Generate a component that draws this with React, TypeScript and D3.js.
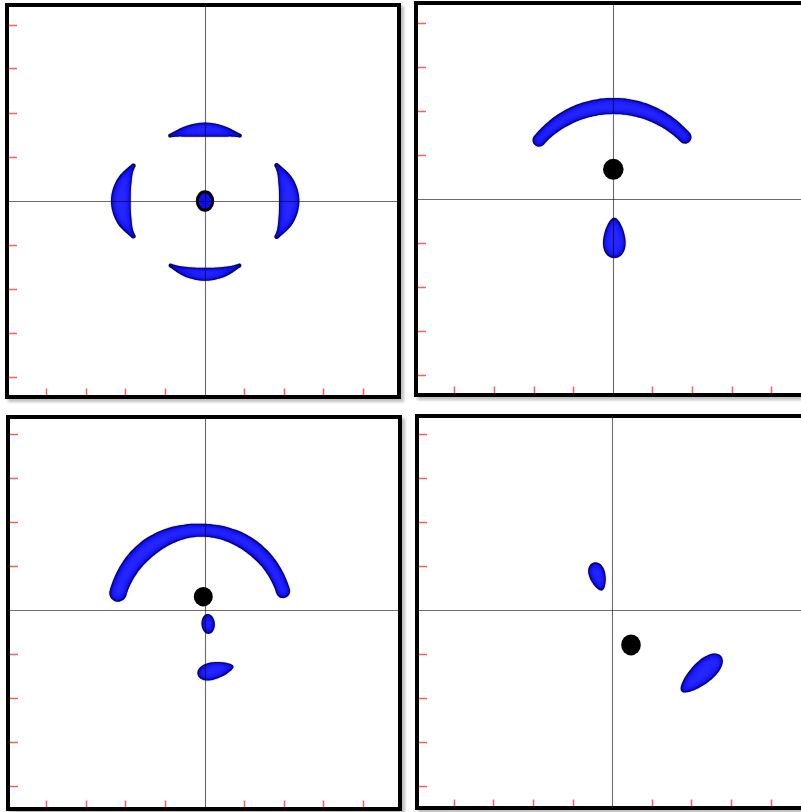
import React from 'react';
import * as d3 from 'd3';

type Pt = [number, number];

const W = 801;
const H = 812;
const BOX = 396; // framed panel size in px
const HALF = BOX / 2;

// axis domains shared by all four panels
const X_DOMAIN: [number, number] = [-5, 5];
const Y_DOMAIN: [number, number] = [-4.5, 4.5];
const TICK_VALUES = [-4, -3, -2, -1, 1, 2, 3, 4];

// panel frames (top-left corner) and where each origin sits on the page
const PANEL_X = [5, 414, 6, 415];
const PANEL_Y = [3, 1, 415, 414];
const ORIGIN_X = [205, 613.3, 205, 612.7];
const ORIGIN_Y = [201, 199.5, 610, 610];

// curved lobes: a mid-line through start / mid / end, with a width profile (x units)
const bands: { panel: number; start: Pt; mid: Pt; end: Pt; width: number[] }[] = [
  { panel: 0, start: [-0.88, 1.485], mid: [0, 1.62], end: [0.88, 1.485], width: [0.1, 0.28, 0.36, 0.28, 0.1] },
  { panel: 0, start: [-0.87, -1.465], mid: [0, -1.667], end: [0.87, -1.465], width: [0.1, 0.26, 0.33, 0.26, 0.1] },
  { panel: 0, start: [-1.81, 0.8], mid: [-2.125, 0], end: [-1.81, -0.8], width: [0.12, 0.39, 0.5, 0.39, 0.12] },
  { panel: 0, start: [1.81, 0.81], mid: [2.126, 0], end: [1.81, -0.81], width: [0.12, 0.4, 0.515, 0.4, 0.12] },
  { panel: 1, start: [-1.876, 1.349], mid: [0, 2.125], end: [1.81, 1.417], width: [0.33, 0.39, 0.41, 0.39, 0.33] },
  { panel: 2, start: [-2.197, 0.385], mid: [-0.05, 1.814], end: [1.97, 0.431], width: [0.44, 0.47, 0.33, 0.39, 0.36] },
];

// egg-shaped lobes from tip to tip; half-width in x units, skew > 0 fattens the second tip
const eggs: { panel: number; tip1: Pt; tip2: Pt; half: number; skew: number }[] = [
  { panel: 1, tip1: [0.025, -0.413], tip2: [0.025, -1.333], half: 0.277, skew: 0.28 },
  { panel: 2, tip1: [0.065, -0.091], tip2: [0.095, -0.544], half: 0.169, skew: 0 },
  { panel: 2, tip1: [-0.189, -1.463], tip2: [0.72, -1.281], half: 0.212, skew: -0.3 },
  { panel: 3, tip1: [-0.485, 1.077], tip2: [-0.27, 0.442], half: 0.202, skew: -0.25 },
  { panel: 3, tip1: [1.737, -1.848], tip2: [2.735, -1.043], half: 0.278, skew: 0.2 },
];

// nuclei markers (radii in x units); ring = hollow marker filled with lobe colour
const nuclei: { panel: number; c: Pt; rx: number; ry: number; ring: boolean }[] = [
  { panel: 0, c: [0, 0], rx: 0.195, ry: 0.235, ring: true },
  { panel: 1, c: [0, 0.685], rx: 0.26, ry: 0.265, ring: false },
  { panel: 2, c: [-0.043, 0.302], rx: 0.24, ry: 0.245, ring: false },
  { panel: 3, c: [0.462, -0.794], rx: 0.248, ry: 0.265, ring: false },
];

const LOBE_FILL = '#0c0cff';
const LOBE_GLOW = '#3a3aff';
const LOBE_RIM = '#000048';
const TICK_COLOR = '#ff5c5c';

const TAU = Math.PI * 2;
const mod = (v: number) => ((v % TAU) + TAU) % TAU;

// smooth 1D interpolation through evenly spaced values
function profile(vals: number[], u: number) {
  const n = vals.length - 1;
  const f = u * n;
  const i = Math.min(Math.floor(f), n - 1);
  const s = f - i;
  const p0 = vals[Math.max(i - 1, 0)];
  const p1 = vals[i];
  const p2 = vals[i + 1];
  const p3 = vals[Math.min(i + 2, n)];
  return 0.5 * (2 * p1 + (-p0 + p2) * s + (2 * p0 - 5 * p1 + 4 * p2 - p3) * s * s + (-p0 + 3 * p1 - 3 * p2 + p3) * s * s * s);
}

function bandPoints(P0: Pt, Pm: Pt, P1: Pt, widths: number[]): Pt[] {
  const [ax, ay] = P0, [bx, by] = Pm, [cx, cy] = P1;
  const d = 2 * (ax * (by - cy) + bx * (cy - ay) + cx * (ay - by));
  const ox = ((ax * ax + ay * ay) * (by - cy) + (bx * bx + by * by) * (cy - ay) + (cx * cx + cy * cy) * (ay - by)) / d;
  const oy = ((ax * ax + ay * ay) * (cx - bx) + (bx * bx + by * by) * (ax - cx) + (cx * cx + cy * cy) * (bx - ax)) / d;
  const R = Math.hypot(ax - ox, ay - oy);
  const a0 = Math.atan2(ay - oy, ax - ox);
  const am = Math.atan2(by - oy, bx - ox);
  const a1 = Math.atan2(cy - oy, cx - ox);
  const ccw = mod(a1 - a0);
  const delta = mod(am - a0) < ccw ? ccw : ccw - TAU;
  const sgn = Math.sign(delta);
  const N = 90;
  const outer: Pt[] = [];
  const inner: Pt[] = [];
  for (let k = 0; k <= N; k++) {
    const u = k / N;
    const a = a0 + delta * u;
    const t = profile(widths, u) / 2;
    outer.push([ox + (R + t) * Math.cos(a), oy + (R + t) * Math.sin(a)]);
    inner.push([ox + (R - t) * Math.cos(a), oy + (R - t) * Math.sin(a)]);
  }
  const cap = (a: number, t: number, dir: number, from: number, to: number): Pt[] => {
    const rx = Math.cos(a), ry = Math.sin(a);
    const tx = dir * -Math.sin(a), ty = dir * Math.cos(a);
    const px = ox + R * rx, py = oy + R * ry;
    const pts: Pt[] = [];
    const M = 14;
    for (let j = 1; j < M; j++) {
      const psi = from + ((to - from) * j) / M;
      pts.push([px + t * (Math.cos(psi) * rx + Math.sin(psi) * tx), py + t * (Math.cos(psi) * ry + Math.sin(psi) * ty)]);
    }
    return pts;
  };
  const endCap = cap(a1, widths[widths.length - 1] / 2, sgn, 0, Math.PI);
  const startCap = cap(a0, widths[0] / 2, -sgn, Math.PI, 0);
  return [...outer, ...endCap, ...inner.reverse(), ...startCap];
}

// skewed ellipse running from tip T1 to tip T2
function eggPoints(T1: Pt, T2: Pt, half: number, skew: number): Pt[] {
  const cx = (T1[0] + T2[0]) / 2, cy = (T1[1] + T2[1]) / 2;
  const len = Math.hypot(T2[0] - T1[0], T2[1] - T1[1]);
  const a = len / 2;
  const ux = (T2[0] - T1[0]) / len, uy = (T2[1] - T1[1]) / len;
  const nx = -uy, ny = ux;
  const pts: Pt[] = [];
  const N = 72;
  for (let k = 0; k < N; k++) {
    const phi = (TAU * k) / N;
    const t = Math.cos(phi);
    const h = half * Math.sin(phi) * (1 + skew * t);
    pts.push([cx + a * t * ux + h * nx, cy + a * t * uy + h * ny]);
  }
  return pts;
}

const line = d3.line<Pt>().curve(d3.curveCatmullRomClosed);
const toPath = (pts: Pt[]) => line(pts) ?? '';
const crisp = (v: number) => Math.floor(v) + 0.5;

// dark rim, solid body, and a soft lighter core for the shaded look
function Lobe({ d }: { d: string }) {
  return (
    <g>
      <path d={d} fill={LOBE_RIM} />
      <path d={d} fill={LOBE_FILL} filter="url(#lobeShade)" />
      <path d={d} fill={LOBE_GLOW} opacity={0.55} filter="url(#lobeCore)" />
    </g>
  );
}

function Panel({ i }: { i: number }) {
  const px = PANEL_X[i];
  const py = PANEL_Y[i];
  const x = d3.scaleLinear().domain(X_DOMAIN).range([ORIGIN_X[i] - HALF, ORIGIN_X[i] + HALF]);
  const y = d3.scaleLinear().domain(Y_DOMAIN).range([ORIGIN_Y[i] + HALF, ORIGIN_Y[i] - HALF]);
  const ux = x(1) - x(0);
  const P = (p: Pt): Pt => [x(p[0]), y(p[1])];

  const lobes: string[] = [];
  bands.filter((b) => b.panel === i).forEach((b) => {
    lobes.push(toPath(bandPoints(P(b.start), P(b.mid), P(b.end), b.width.map((w) => w * ux))));
  });
  eggs.filter((e) => e.panel === i).forEach((e) => {
    lobes.push(toPath(eggPoints(P(e.tip1), P(e.tip2), e.half * ux, e.skew)));
  });

  const inset = 4;
  const left = px + inset;
  const right = px + BOX - inset;
  const top = py + inset;
  const bottom = py + BOX - inset;
  const cx = crisp(x(0));
  const cy = crisp(y(0));

  return (
    <g>
      <rect x={px + 3} y={py + 3} width={BOX} height={BOX} fill="#000" opacity={0.25} filter="url(#panelShadow)" />
      <rect x={px} y={py} width={BOX} height={BOX} fill="#fff" />
      {lobes.map((d, k) => (
        <Lobe key={k} d={d} />
      ))}
      {nuclei.filter((n) => n.panel === i).map((n, k) => (
        <ellipse
          key={k}
          cx={x(n.c[0])}
          cy={y(n.c[1])}
          rx={n.rx * ux}
          ry={n.ry * ux}
          fill={n.ring ? LOBE_FILL : '#000'}
          stroke="#000"
          strokeWidth={n.ring ? 3 : 0}
        />
      ))}
      <line x1={cx} x2={cx} y1={top} y2={bottom} stroke="#000" strokeOpacity={0.58} strokeWidth={1.1} />
      <line x1={left} x2={right} y1={cy} y2={cy} stroke="#000" strokeOpacity={0.58} strokeWidth={1.1} />
      {TICK_VALUES.map((v) => (
        <line key={'x' + v} x1={crisp(x(v))} x2={crisp(x(v))} y1={bottom} y2={bottom - 6.5} stroke={TICK_COLOR} strokeWidth={1.5} />
      ))}
      {TICK_VALUES.map((v) => (
        <line key={'y' + v} x1={left} x2={left + 8} y1={crisp(y(v))} y2={crisp(y(v))} stroke={TICK_COLOR} strokeWidth={1.5} />
      ))}
      <rect x={px + 2} y={py + 2} width={BOX - 4} height={BOX - 4} fill="none" stroke="#000" strokeWidth={4} />
    </g>
  );
}

export default function App() {
  return (
    <svg
      width={W}
      height={H}
      viewBox={`0 0 ${W} ${H}`}
      style={{ position: 'fixed', left: 0, top: 0, background: '#fff', display: 'block' }}
    >
      <defs>
        <filter id="lobeShade" x="-20%" y="-20%" width="140%" height="140%">
          <feMorphology in="SourceGraphic" operator="erode" radius="0.7" result="core" />
          <feGaussianBlur in="core" stdDeviation="1" />
        </filter>
        <filter id="lobeCore" x="-20%" y="-20%" width="140%" height="140%">
          <feMorphology in="SourceGraphic" operator="erode" radius="3" result="core" />
          <feGaussianBlur in="core" stdDeviation="2" />
        </filter>
        <filter id="panelShadow" x="-5%" y="-5%" width="110%" height="110%">
          <feGaussianBlur stdDeviation="1.5" />
        </filter>
      </defs>
      <rect width={W} height={H} fill="#fff" />
      {[0, 1, 2, 3].map((i) => (
        <Panel key={i} i={i} />
      ))}
    </svg>
  );
}
